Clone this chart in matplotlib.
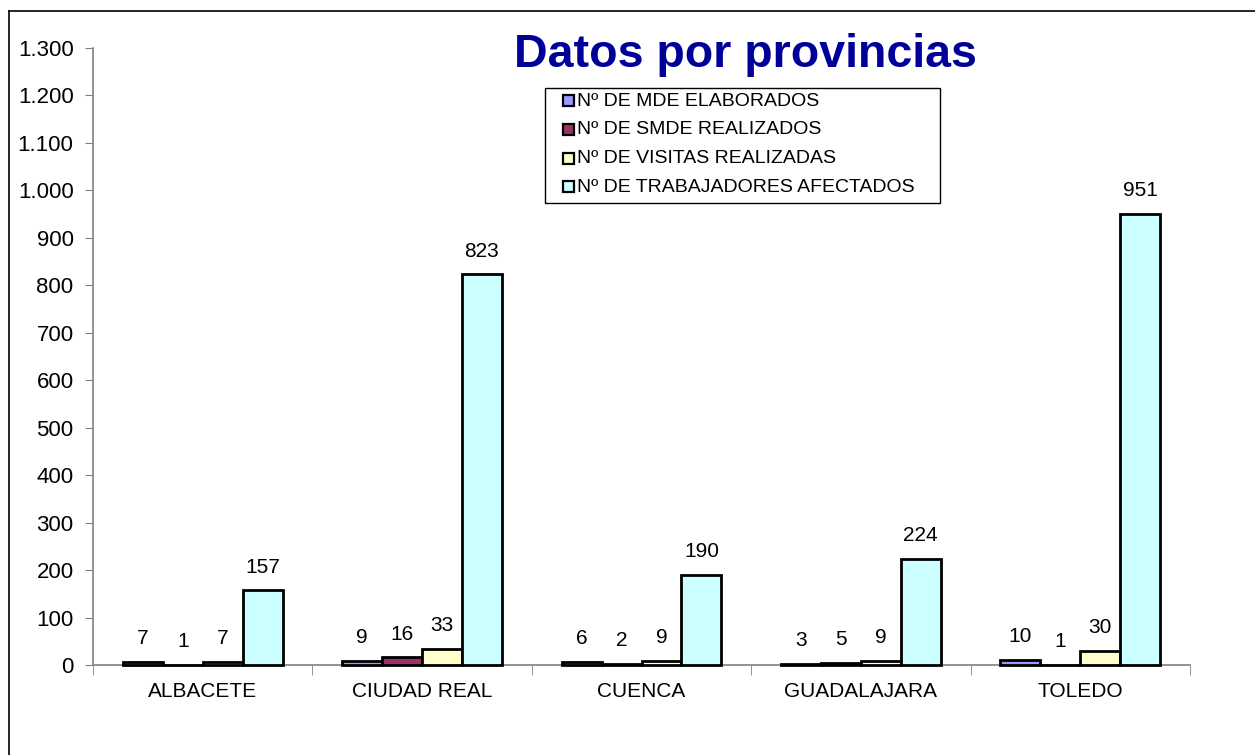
import matplotlib.pyplot as plt
import numpy as np
from matplotlib.lines import Line2D
from matplotlib.patches import Rectangle
from matplotlib.ticker import FuncFormatter

plt.rcParams['font.family'] = ['Liberation Sans', 'DejaVu Sans']

provincias = ["ALBACETE", "CIUDAD REAL", "CUENCA", "GUADALAJARA", "TOLEDO"]
series = ["Nº DE MDE ELABORADOS", "Nº DE SMDE REALIZADOS",
          "Nº DE VISITAS REALIZADAS", "Nº DE TRABAJADORES AFECTADOS"]
mde = [7, 9, 6, 3, 10]
smde = [1, 16, 2, 5, 1]
visitas = [7, 33, 9, 9, 30]
trabajadores = [157, 823, 190, 224, 951]
colores = ["#9999FF", "#993366", "#FFFFCC", "#CCFFFF"]

W, H = 1255, 755
fig = plt.figure(figsize=(12.55, 7.55), dpi=100)
ax = fig.add_axes([93 / W, 1 - 665 / H, (1190 - 93) / W, (665 - 48) / H])

x = np.arange(len(provincias))
w = 0.182
for i, (vals, col) in enumerate(zip([mde, smde, visitas, trabajadores], colores)):
    pos = x + (i - 1.5) * w
    bars = ax.bar(pos, vals, w, color=col, edgecolor="black", linewidth=2,
                  zorder=3, clip_on=False)
    for b, v in zip(bars, vals):
        ax.annotate(str(v), (b.get_x() + b.get_width() / 2, v), xytext=(0, 10),
                    textcoords="offset points", ha="center", va="bottom", fontsize=15)

ax.set_xlim(-0.5, len(provincias) - 0.5)
ax.set_ylim(0, 1300)
ax.set_yticks(range(0, 1301, 100))
ax.yaxis.set_major_formatter(FuncFormatter(lambda v, p: f"{int(v):,}".replace(",", ".")))
ax.set_xticks(x)
ax.set_xticklabels(provincias, fontsize=15)
ax.set_xticks(np.arange(-0.5, len(provincias), 1), minor=True)
ax.tick_params(axis="x", which="major", length=0, pad=12)
ax.tick_params(axis="x", which="minor", length=7, color="#808080", direction="out")
ax.tick_params(axis="y", labelsize=16, length=6, color="#808080", pad=8)
for s in ["top", "right"]:
    ax.spines[s].set_visible(False)
for s in ["left", "bottom"]:
    ax.spines[s].set_color("#808080")
    ax.spines[s].set_linewidth(1.2)

fig.text(745 / W, 1 - 55 / H, "Datos por provincias", fontsize=33.5, fontweight="bold",
         color="#000099", ha="center", va="center")

# leyenda dibujada a mano (caja tipo Excel)
fig.add_artist(Rectangle((545 / W, 1 - 203 / H), 395 / W, 115 / H, transform=fig.transFigure,
                         facecolor="white", edgecolor="black", lw=1, zorder=5))
filas = [101, 130, 158.5, 187]
for lab, col, yy in zip(series, colores, filas):
    fig.add_artist(Rectangle((563 / W, 1 - (yy + 5) / H), 11 / W, 11 / H,
                             transform=fig.transFigure, facecolor=col,
                             edgecolor="black", lw=1.6, zorder=6))
    fig.text(577 / W, 1 - yy / H, lab, fontsize=14, ha="left", va="center", zorder=6)

fig.add_artist(Line2D([9 / W, 9 / W], [0, 1 - 11 / H], color="black", lw=1.2))
fig.add_artist(Line2D([9 / W, 1], [1 - 11 / H, 1 - 11 / H], color="black", lw=1.2))

fig.savefig("out.png", dpi=100)
